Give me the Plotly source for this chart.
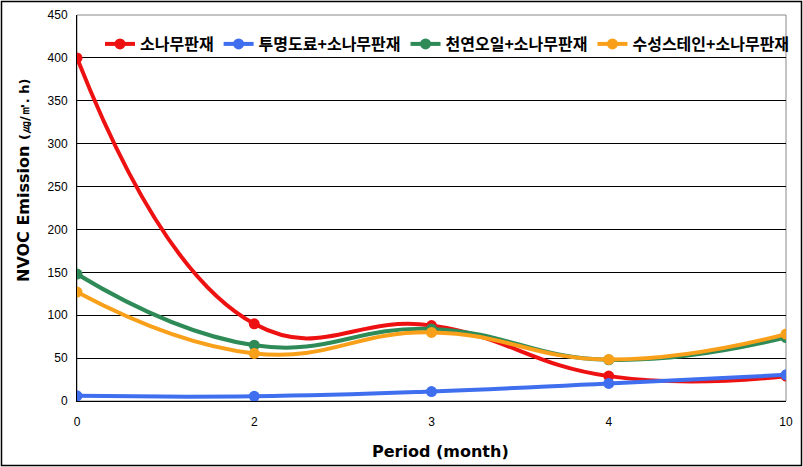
import plotly.graph_objects as go

periods = ["0", "2", "3", "4", "10"]
series_names = ["소나무판재", "투명도료+소나무판재", "천연오일+소나무판재", "수성스테인+소나무판재"]
pine = [400, 90, 88, 29, 29]
clear_paint = [6, 5.5, 11, 20.5, 30.5]
natural_oil = [148, 65, 84, 48, 74]
water_stain = [127, 55.5, 80, 48.5, 78]
colors = ["#ee1111", "#3f6fef", "#2e8b57", "#f9a01b"]
y_ticks = [0, 50, 100, 150, 200, 250, 300, 350, 400, 450]

fig = go.Figure()
xs = list(range(len(periods)))
for name, vals, c in zip(series_names, [pine, clear_paint, natural_oil, water_stain], colors):
    fig.add_trace(go.Scatter(
        x=xs, y=vals, name=name, mode="lines+markers",
        line=dict(color=c, width=4, shape="spline", smoothing=1.3),
        marker=dict(color=c, size=11),
    ))

W, H = 803, 467
L, R, T, B = 77, 17, 15, 66
pw, ph = W - L - R, H - T - B

def px_x(p):
    return (p - L) / pw

def px_y(p):
    return (H - B - p) / ph

title_font = dict(family="DejaVu Sans", size=16, color="black", weight=700)

fig.update_layout(
    width=W, height=H,
    margin=dict(l=L, r=R, t=T, b=B, autoexpand=False),
    paper_bgcolor="white", plot_bgcolor="white",
    font=dict(family="Liberation Sans, Arial, sans-serif", color="black", size=12),
    showlegend=True,
    legend=dict(
        orientation="h", x=px_x(100), y=px_y(27), xanchor="left", yanchor="top",
        font=dict(family="Noto Sans CJK KR", size=16, color="black", weight=700),
        bgcolor="rgba(0,0,0,0)", itemwidth=30, tracegroupgap=0,
    ),
    xaxis=dict(
        range=[0, 4], tickmode="array", tickvals=xs, ticktext=periods,
        showgrid=False, zeroline=False, showline=True, linecolor="black", linewidth=1,
        ticks="", ticklabelstandoff=10, automargin=False,
    ),
    yaxis=dict(
        range=[0, 450], tickvals=y_ticks, showgrid=True, gridcolor="black", gridwidth=1,
        zeroline=False, showline=True, linecolor="black", linewidth=1,
        ticks="", ticklabelstandoff=6, automargin=False,
    ),
    annotations=[
        dict(text="Period (month)", xref="paper", yref="paper",
             x=px_x(440), y=px_y(451), xanchor="center", yanchor="middle",
             showarrow=False, font=title_font),
        dict(text="NVOC Emission <span style='font-size:13px'>(㎍/㎡. h)</span>",
             xref="paper", yref="paper", x=px_x(23), y=px_y(181),
             xanchor="center", yanchor="middle", textangle=-90,
             showarrow=False, font=title_font),
    ],
    shapes=[
        dict(type="rect", xref="paper", yref="paper", x0=0, y0=0, x1=1, y1=1,
             line=dict(color="#888888", width=1), layer="below"),
        dict(type="rect", xref="paper", yref="paper",
             x0=px_x(1.5), x1=px_x(801.5), y0=px_y(465.5), y1=px_y(1.5),
             line=dict(color="black", width=1.5), layer="below"),
    ],
)

fig.write_html("out.html", config={"displayModeBar": False},
               post_script="document.body.style.margin='0';document.body.style.padding='0';")
